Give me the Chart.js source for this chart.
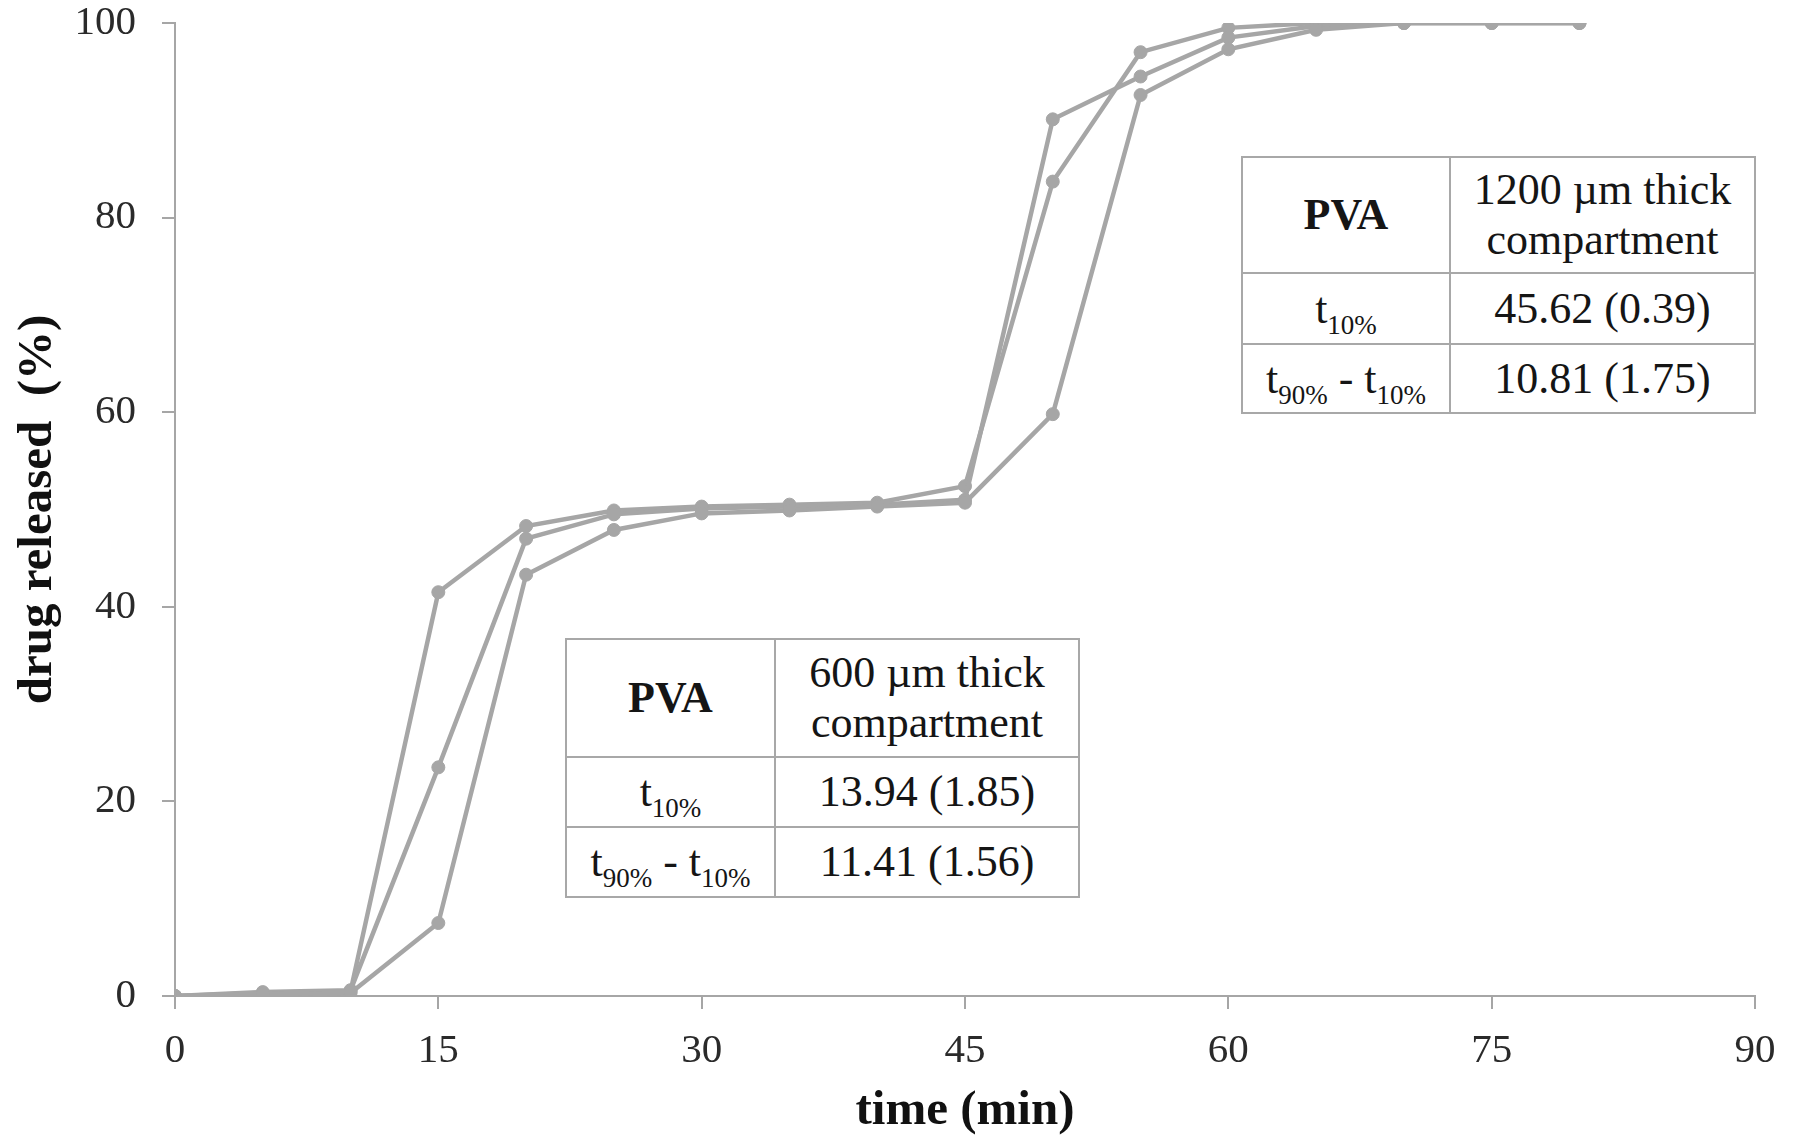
<!DOCTYPE html>
<html><head><meta charset="utf-8">
<script src="https://cdn.jsdelivr.net/npm/chart.js@4.4.1/dist/chart.umd.min.js"></script>
<style>
html,body{margin:0;padding:0;background:#fff;}
#wrap{position:relative;width:1797px;height:1144px;overflow:hidden;}
canvas{position:absolute;left:0;top:0;}
.tbl{position:absolute;border-collapse:collapse;table-layout:fixed;font-family:"Liberation Serif","Times New Roman",serif;color:#151515;background:#fff;}
.tbl td{border:2px solid #a8a8a8;text-align:center;vertical-align:middle;padding:0;font-size:44px;line-height:50px;white-space:nowrap;}
.tbl td.h{font-weight:bold;}
.tbl sub{font-size:27px;vertical-align:-11px;line-height:0;}
</style></head>
<body>
<div id="wrap">
<canvas id="c" width="1797" height="1144"></canvas>
</div>
<script>
// ---- data ----
const times = [0,5,10,15,20,25,30,35,40,45,50,55,60,65,70,75,80];
const release1 = [0,0.3,0.5,41.5,48.3,49.9,50.3,50.5,50.7,52.4,83.7,97.0,99.5,100,100,100,100];
const release2 = [0,0.4,0.6,23.5,47.0,49.5,50.1,50.3,50.5,51.0,90.1,94.5,98.5,99.7,100,100,100];
const release3 = [0,0.2,0.3,7.5,43.3,47.9,49.6,49.9,50.3,50.7,59.8,92.6,97.3,99.3,100,100,100];
const xTicks = [0,15,30,45,60,75,90];
const yTicks = [0,20,40,60,80,100];
const xTitle = 'time (min)';
const yTitle = 'drug released  (%)';

const table600Header = ['PVA', '600 µm thick', 'compartment'];
const table600Values = ['13.94 (1.85)', '11.41 (1.56)'];
const table1200Header = ['PVA', '1200 µm thick', 'compartment'];
const table1200Values = ['45.62 (0.39)', '10.81 (1.75)'];
const rowLabels = [['t', '10%'], ['t', '90%', ' - ', 't', '10%']];

// ---- chart ----
const grey = '#a6a6a6';
const mk = (arr) => times.map((t, i) => ({x: t, y: arr[i]}));
const ds = (arr) => ({
  data: mk(arr), showLine: true, borderColor: grey, backgroundColor: grey,
  borderWidth: 4.5, pointRadius: 6.5, pointBorderWidth: 1, pointBorderColor: grey,
  pointBackgroundColor: grey, tension: 0
});

new Chart(document.getElementById('c'), {
  type: 'scatter',
  data: { datasets: [ds(release3), ds(release2), ds(release1)] },
  options: {
    responsive: false, animation: false, devicePixelRatio: 1,
    layout: { padding: { left: 0, right: 42, top: 23, bottom: 0 } },
    plugins: { legend: { display: false }, tooltip: { enabled: false } },
    scales: {
      x: {
        type: 'linear', min: 0, max: 90,
        afterBuildTicks: (s) => { s.ticks = xTicks.map(v => ({value: v})); },
        afterFit: (s) => { s.height = 148; s.paddingLeft = 0; s.paddingRight = 0; },
        border: { display: true, color: grey, width: 2 },
        grid: { display: true, drawOnChartArea: false, drawTicks: true, tickLength: 13, color: grey, lineWidth: 2 },
        ticks: { padding: 18, color: '#2a2a2a', font: { family: 'Liberation Serif', size: 41 } },
        title: { display: true, text: xTitle, color: '#111', padding: { top: 0, bottom: 3 },
                 font: { family: 'Liberation Serif', size: 49, weight: 'bold', lineHeight: 1.2 } }
      },
      y: {
        type: 'linear', min: 0, max: 100,
        afterBuildTicks: (s) => { s.ticks = yTicks.map(v => ({value: v})); },
        afterFit: (s) => { s.width = 175; s.paddingTop = 0; s.paddingBottom = 0; },
        border: { display: true, color: grey, width: 2 },
        grid: { display: true, drawOnChartArea: false, drawTicks: true, tickLength: 13, color: grey, lineWidth: 2 },
        ticks: { padding: 26, color: '#2a2a2a', font: { family: 'Liberation Serif', size: 41 } },
        title: { display: true, text: yTitle, color: '#111', padding: { top: 9, bottom: 0 },
                 font: { family: 'Liberation Serif', size: 49, weight: 'bold', lineHeight: 1.2 } }
      }
    }
  }
});

// ---- tables (text overlays) ----
function sublabel(parts) {
  if (parts.length === 2) return parts[0] + '<sub>' + parts[1] + '</sub>';
  return parts[0] + '<sub>' + parts[1] + '</sub>' + parts[2] + parts[3] + '<sub>' + parts[4] + '</sub>';
}
function makeTable(header, values, box) {
  const t = document.createElement('table');
  t.className = 'tbl';
  Object.assign(t.style, { left: box.left + 'px', top: box.top + 'px', width: box.w + 'px', height: box.h + 'px' });
  t.innerHTML =
    '<colgroup><col style="width:' + box.c1 + 'px"><col></colgroup>' +
    '<tr style="height:' + box.r[0] + 'px"><td class="h">' + header[0] + '</td><td>' + header[1] + '<br>' + header[2] + '</td></tr>' +
    '<tr style="height:' + box.r[1] + 'px"><td>' + sublabel(rowLabels[0]) + '</td><td>' + values[0] + '</td></tr>' +
    '<tr style="height:' + box.r[2] + 'px"><td>' + sublabel(rowLabels[1]) + '</td><td>' + values[1] + '</td></tr>';
  document.getElementById('wrap').appendChild(t);
}
makeTable(table600Header, table600Values, { left: 565, top: 638, w: 515, h: 258, c1: 209, r: [118, 70, 70] });
makeTable(table1200Header, table1200Values, { left: 1241, top: 156, w: 515, h: 256, c1: 208, r: [116, 71, 69] });
</script>
</body></html>
